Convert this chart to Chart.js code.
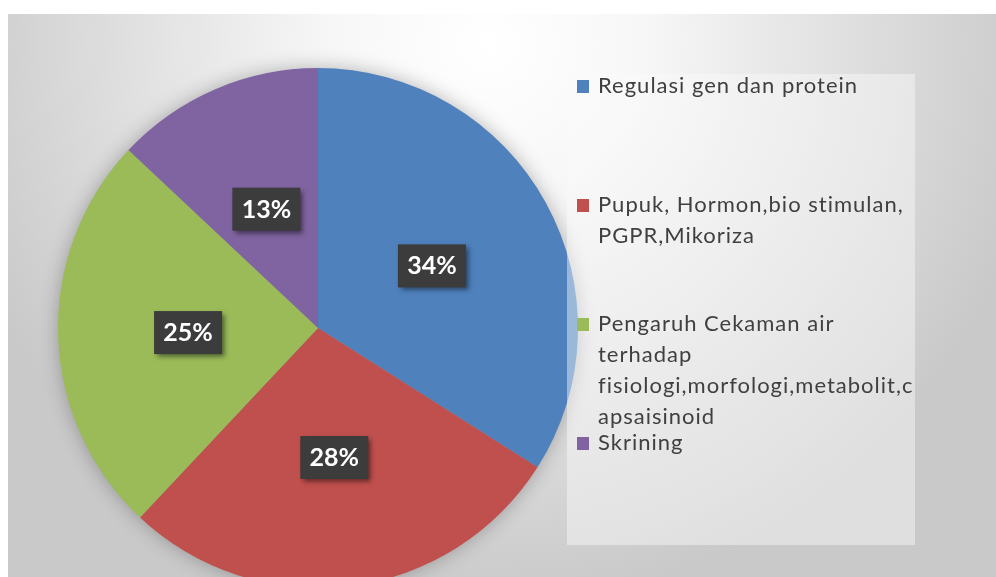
<!DOCTYPE html>
<html>
<head>
<meta charset="utf-8">
<script src="https://cdn.jsdelivr.net/npm/chart.js@4"></script>
<style>
  html, body { margin: 0; padding: 0; background: #fff; overflow: hidden; width: 996px; height: 577px; }
  #panel {
    position: absolute; left: 8px; top: 14px; width: 988px; height: 563px;
    background: radial-gradient(ellipse 560px 560px at 480px 30px, #ffffff 0%, #f7f7f7 28%, #dcdcdc 70%, #c9c9c9 100%);
  }
  #chart { position: absolute; left: 0; top: 0; }
</style>
</head>
<body>
<div id="panel"></div>
<canvas id="chart" width="996" height="620"></canvas>
<script>
// data
const categories = [
    ["Regulasi gen dan protein"],
    ["Pupuk, Hormon,bio stimulan,", "PGPR,Mikoriza"],
    ["Pengaruh Cekaman air", "terhadap", "fisiologi,morfologi,metabolit,c", "apsaisinoid"],
    ["Skrining"]
];
const shares = [34, 28, 25, 13];
const sliceColors = ["#4f81bd", "#c0504d", "#9bbb59", "#8064a2"];

// soft shadow behind the pie
const pieShadow = {
    id: 'pieShadow',
    beforeDatasetsDraw(chart) {
        let arc = chart.getDatasetMeta(0).data[0]
        if (!arc) return
        let ctx = chart.ctx
        ctx.save()
        ctx.shadowColor = 'rgba(0,0,0,0.3)'
        ctx.shadowBlur = 20
        ctx.fillStyle = '#999'
        ctx.beginPath()
        ctx.arc(arc.x, arc.y, arc.outerRadius - 1, 0, Math.PI * 2)
        ctx.fill()
        ctx.restore()
    }
}

// legend box on the right + dark percentage tags
const boxLegend = {
    id: 'boxLegend',
    afterDatasetsDraw(chart) {
        let ctx = chart.ctx
        ctx.save()
        ctx.fillStyle = 'rgba(250,250,250,0.45)'
        ctx.fillRect(567, 74, 348, 471)

        ctx.font = '22px Lato'
        ctx.letterSpacing = '1px'
        ctx.textAlign = 'left'
        ctx.textBaseline = 'alphabetic'
        for (let i = 0; i < categories.length; i++) {
            let base = 93 + i * 119
            ctx.fillStyle = sliceColors[i]
            ctx.fillRect(577, base - 13, 12, 13)
            ctx.fillStyle = '#404040'
            categories[i].forEach((line, j) => {
                ctx.fillText(line, 598, base + j * 31)
            })
        }
        ctx.letterSpacing = '0px'

        let total = shares.reduce((a, b) => a + b, 0)
        let arcs = chart.getDatasetMeta(0).data
        ctx.font = 'bold 25px Lato'
        ctx.textAlign = 'center'
        ctx.textBaseline = 'middle'
        arcs.forEach((arc, i) => {
            let p = arc.tooltipPosition()
            ctx.save()
            ctx.shadowColor = 'rgba(0,0,0,0.5)'
            ctx.shadowBlur = 5
            ctx.shadowOffsetX = 3
            ctx.shadowOffsetY = 3
            ctx.fillStyle = '#3c3c3c'
            ctx.fillRect(p.x - 34, p.y - 21, 68, 43)
            ctx.restore()
            ctx.fillStyle = '#ffffff'
            ctx.fillText(Math.round(shares[i] / total * 100) + '%', p.x, p.y + 1)
        })
        ctx.restore()
    }
}

new Chart(document.getElementById('chart'), {
    type: 'pie',
    data: {
        labels: categories.map(c => c.join(' ')),
        datasets: [{
            data: shares,
            backgroundColor: sliceColors,
            borderWidth: 0
        }]
    },
    options: {
        responsive: false,
        animation: false,
        devicePixelRatio: 1,
        layout: { padding: { left: 58, right: 418, top: 68, bottom: 32 } },
        plugins: {
            legend: { display: false },
            tooltip: { enabled: false }
        }
    },
    plugins: [pieShadow, boxLegend]
});
</script>
</body>
</html>
